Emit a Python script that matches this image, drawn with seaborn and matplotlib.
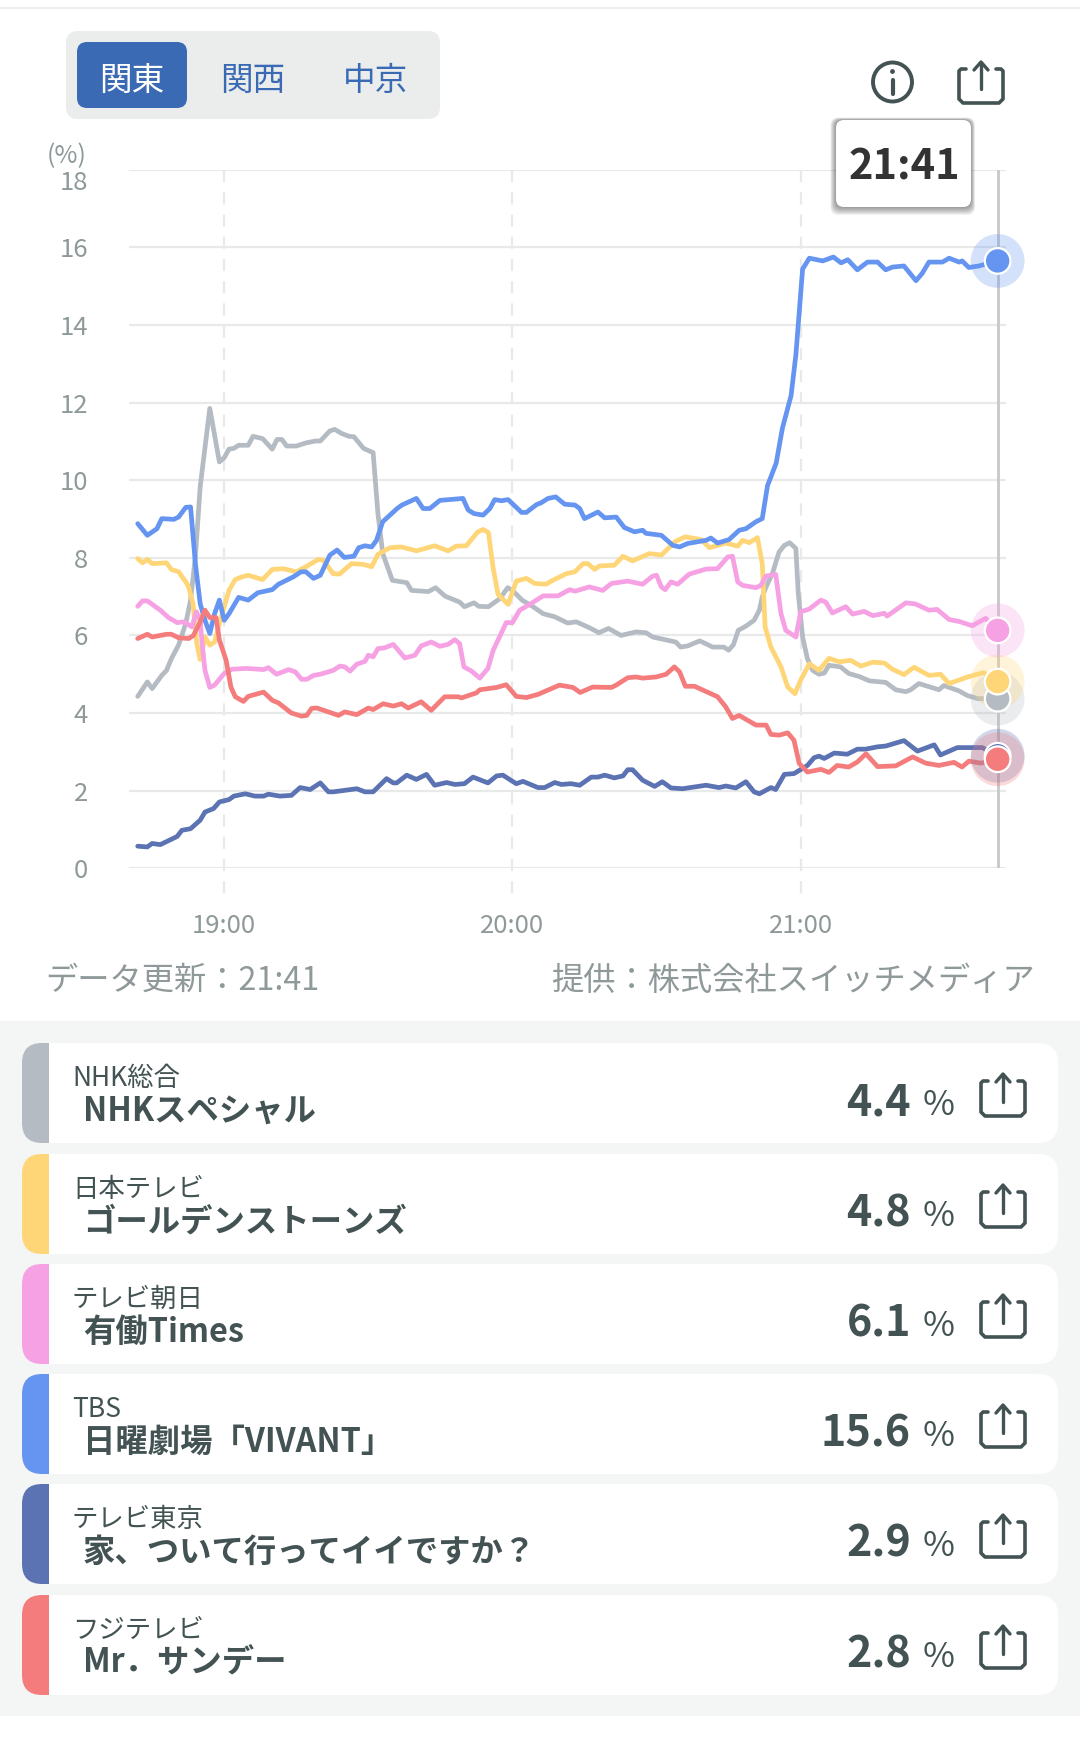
import pandas as pd
import seaborn as sns
import matplotlib.pyplot as plt
from matplotlib.patches import FancyBboxPatch, Rectangle, Circle

# ---- data (minutes from 19:00, rating %) ----
nhk_t = [-18, -16, -15, -13, -12, -11, -9.5, -8, -7, -6, -5, -3, -1, 0, 1, 2, 3, 5, 6, 8, 10, 11, 12, 13, 15, 17, 19, 20, 22, 23, 24.5, 26, 27, 29, 31, 32, 33, 35, 38, 39, 42.5, 44, 46, 48, 49, 50, 52, 53, 55, 57.4, 59, 60, 62, 64.3, 66.4, 68.8, 71.5, 73.3, 76, 78, 80, 82.6, 85.7, 87.8, 89.2, 94, 95, 96.5, 99, 101.7, 104, 105, 106, 107, 108.6, 110.3, 111.4, 112, 112.8, 114.1, 115.5, 116.6, 117.7, 119, 119.5, 120.4, 121.4, 122.5, 123.8, 124.9, 125.9, 128.3, 130, 132.2, 134.3, 137.7, 139.8, 141.9, 142.9, 144.6, 148.8, 149.8, 153, 154.7, 157, 161]
nhk_v = [4.43, 4.80, 4.63, 4.97, 5.10, 5.40, 5.75, 6.31, 6.91, 8.02, 9.83, 11.85, 10.47, 10.58, 10.80, 10.82, 10.90, 10.90, 11.13, 11.07, 10.80, 11.05, 11.05, 10.88, 10.88, 10.96, 11.01, 11.01, 11.27, 11.31, 11.20, 11.13, 11.12, 10.82, 10.71, 9.14, 8.11, 7.42, 7.36, 7.16, 7.13, 7.23, 7.01, 6.91, 6.86, 6.74, 6.84, 6.75, 6.74, 6.95, 7.23, 7.16, 6.91, 6.74, 6.56, 6.48, 6.32, 6.35, 6.20, 6.07, 6.18, 6.00, 6.09, 6.07, 5.96, 5.83, 5.70, 5.73, 5.86, 5.70, 5.70, 5.62, 5.76, 6.13, 6.24, 6.39, 6.65, 6.99, 7.25, 7.59, 8.15, 8.32, 8.39, 8.24, 7.08, 5.96, 5.40, 5.10, 5.00, 5.03, 5.23, 5.19, 5.02, 4.94, 4.83, 4.79, 4.60, 4.55, 4.60, 4.76, 4.60, 4.71, 4.57, 4.45, 4.37, 4.37]

ntv_t = [-18, -17, -16, -15, -12, -11, -9.5, -8, -7.4, -6.5, -5.7, -5, -4, -3, -2, -1, 0, 1, 2.3, 3.7, 5, 8, 10, 12.3, 15, 17, 19.6, 20.6, 22.7, 24, 26.5, 29, 30.7, 32, 34.5, 36.9, 40, 43.8, 46.6, 48.3, 50.4, 52.8, 53.9, 55, 56, 57, 59.1, 60.8, 62.9, 64.6, 67, 68.4, 71.2, 73, 74.7, 75.7, 77.1, 78.1, 81.2, 83, 85, 88.5, 91, 94, 96, 99.3, 101, 104.4, 106.9, 107.9, 109.3, 111, 112, 112.6, 113.8, 115.9, 117.3, 118.8, 120, 121.8, 123.8, 125.9, 128, 130.4, 132.5, 135, 137.4, 139.1, 141.5, 143.6, 146.7, 149.1, 150.9, 155, 158.1, 161]
ntv_v = [7.98, 7.87, 7.96, 7.85, 7.87, 7.70, 7.64, 7.38, 7.25, 6.82, 5.79, 5.38, 5.96, 5.75, 5.83, 6.31, 6.74, 7.16, 7.44, 7.51, 7.55, 7.44, 7.70, 7.72, 7.64, 7.77, 7.96, 7.94, 7.59, 7.58, 7.85, 7.83, 7.77, 8.09, 8.26, 8.28, 8.18, 8.31, 8.18, 8.30, 8.31, 8.67, 8.73, 8.65, 7.72, 7.06, 6.80, 7.40, 7.47, 7.34, 7.32, 7.42, 7.59, 7.64, 7.85, 7.85, 7.70, 7.79, 7.81, 8.04, 7.92, 8.11, 8.07, 8.43, 8.54, 8.47, 8.26, 8.38, 8.30, 8.45, 8.39, 8.52, 7.85, 6.22, 5.70, 5.19, 4.67, 4.50, 4.85, 5.27, 5.10, 5.41, 5.32, 5.36, 5.21, 5.31, 5.29, 5.13, 4.99, 5.18, 4.97, 5.00, 4.76, 4.94, 5.04, 4.81]

ex_t = [-18, -17, -16, -13.3, -11.6, -9.8, -8.4, -6.7, -5.8, -5, -4.6, -4, -3, -2, 0, 1.6, 4.7, 8.2, 9.2, 10.9, 13.4, 14.8, 16.1, 17.2, 18.6, 20, 22.7, 24.1, 25.1, 26.2, 27.6, 29.3, 30, 31, 32, 33.4, 35.2, 37.6, 39.7, 41, 43.1, 44.9, 46.6, 48, 49, 49.9, 51.5, 53.2, 54.9, 56, 57, 58.7, 60, 61.5, 63.6, 66.4, 69.5, 71.9, 73, 76, 78.8, 80.6, 84, 87.1, 89.2, 90, 91, 91.8, 93, 94.4, 96.8, 100.3, 102.7, 104.8, 105.8, 106.9, 107.9, 110.7, 111.7, 112.8, 114.8, 115.9, 116.9, 119, 120, 121.8, 124.2, 125.2, 126.6, 129.4, 130.8, 133.2, 135, 137.4, 138, 141.9, 143.9, 146.7, 148.4, 150.9, 153, 155.7, 158.5, 161]
ex_v = [6.75, 6.89, 6.89, 6.65, 6.46, 6.33, 6.35, 6.22, 6.61, 6.39, 5.79, 5.10, 4.66, 4.72, 5.02, 5.13, 5.15, 5.12, 5.17, 5.00, 5.12, 5.06, 4.87, 4.87, 4.97, 5.00, 5.10, 5.21, 5.19, 5.08, 5.26, 5.33, 5.49, 5.45, 5.66, 5.68, 5.77, 5.42, 5.49, 5.73, 5.83, 5.72, 5.77, 5.89, 5.79, 5.19, 5.08, 4.90, 5.15, 5.62, 5.88, 6.33, 6.33, 6.65, 6.80, 7.02, 7.02, 7.18, 7.14, 7.25, 7.16, 7.34, 7.40, 7.32, 7.53, 7.55, 7.25, 7.18, 7.38, 7.32, 7.58, 7.71, 7.72, 8.02, 8.04, 7.38, 7.29, 7.23, 7.29, 7.53, 7.57, 6.56, 6.13, 5.96, 6.61, 6.68, 6.91, 6.86, 6.58, 6.74, 6.55, 6.62, 6.51, 6.57, 6.50, 6.84, 6.81, 6.65, 6.67, 6.41, 6.36, 6.25, 6.44, 6.13]

tbs_t = [-18, -16, -14, -13, -10.5, -9.5, -8, -7, -6, -5, -4, -3, -2, -1, 0, 1, 3, 5, 7, 10, 11.3, 14.4, 16, 17, 18.6, 20, 22, 23.5, 25, 27, 28, 29.3, 30.7, 31.7, 33, 36, 37, 40, 41.4, 42.8, 44.9, 49.7, 50.8, 52, 53.9, 55.3, 56.3, 57.7, 59.1, 61.9, 62.9, 65, 66, 67.4, 69, 70.9, 73, 74, 75, 77.8, 79.2, 81.6, 83.3, 85.4, 87.1, 87.8, 91, 93.4, 94.8, 96.5, 100.3, 101.3, 102.7, 105.1, 107.2, 108.6, 110.7, 112, 113.1, 114.9, 116.2, 118, 119, 120.4, 121.8, 124.6, 126.8, 128.4, 129.8, 131.8, 133.9, 136, 137.7, 139.1, 141.5, 144, 145.3, 146.7, 149.5, 150.9, 153, 153.6, 155, 157.1, 161]
tbs_v = [8.88, 8.58, 8.75, 9.01, 8.99, 9.05, 9.30, 9.31, 7.85, 6.82, 6.39, 6.05, 6.56, 6.91, 6.39, 6.56, 6.98, 6.91, 7.10, 7.18, 7.32, 7.51, 7.64, 7.64, 7.47, 7.55, 8.07, 8.20, 8.01, 8.04, 8.26, 8.31, 8.28, 8.45, 8.93, 9.27, 9.36, 9.53, 9.27, 9.27, 9.48, 9.53, 9.23, 9.14, 9.10, 9.27, 9.50, 9.47, 9.50, 9.17, 9.17, 9.37, 9.42, 9.53, 9.57, 9.38, 9.36, 9.27, 9.01, 9.18, 9.03, 9.05, 8.78, 8.67, 8.71, 8.63, 8.58, 8.32, 8.28, 8.37, 8.45, 8.51, 8.38, 8.47, 8.71, 8.75, 8.93, 9.01, 9.86, 10.44, 11.34, 12.18, 13.23, 15.44, 15.72, 15.65, 15.75, 15.60, 15.68, 15.42, 15.62, 15.62, 15.42, 15.49, 15.52, 15.14, 15.33, 15.62, 15.62, 15.72, 15.62, 15.65, 15.48, 15.52, 15.65]

tx_t = [-18, -16, -15, -13.3, -9.8, -8.8, -7, -5, -4, -2.2, -1, 1, 2, 4.4, 6.4, 8.2, 9.2, 11.6, 14, 15.8, 17.9, 20, 21.7, 22.7, 27.6, 29.3, 31, 33.8, 35.2, 35.9, 38, 40, 42.1, 43.8, 46.3, 48, 50, 51.8, 54.9, 56.7, 58, 60.8, 62.2, 65.3, 66.7, 68.8, 70.2, 72.2, 74, 76.4, 77.8, 79.2, 81.2, 83, 84, 85, 87.1, 89.6, 91.2, 93, 95.4, 100.3, 103, 104.4, 106.5, 108.6, 110.3, 111.4, 113.8, 114.8, 116.6, 118.6, 121.4, 122.8, 123.8, 124.9, 127, 129.7, 131.8, 133.5, 136, 137.7, 141.5, 144.3, 147.8, 149.1, 152.6, 157.8, 161]
tx_v = [0.57, 0.55, 0.64, 0.61, 0.82, 0.98, 1.02, 1.24, 1.45, 1.54, 1.71, 1.77, 1.86, 1.92, 1.86, 1.86, 1.91, 1.86, 1.88, 2.08, 2.03, 2.20, 1.97, 1.97, 2.05, 1.97, 1.97, 2.31, 2.20, 2.20, 2.40, 2.29, 2.42, 2.14, 2.21, 2.16, 2.18, 2.35, 2.20, 2.38, 2.40, 2.18, 2.24, 2.08, 2.08, 2.21, 2.16, 2.18, 2.14, 2.35, 2.35, 2.40, 2.33, 2.38, 2.54, 2.54, 2.27, 2.11, 2.23, 2.07, 2.05, 2.14, 2.08, 2.12, 2.07, 2.23, 1.97, 1.92, 2.08, 2.03, 2.42, 2.44, 2.65, 2.85, 2.89, 2.83, 2.97, 2.94, 3.07, 3.07, 3.13, 3.15, 3.29, 3.02, 3.18, 2.92, 3.11, 3.11, 2.90]

cx_t = [-18, -16, -15, -12, -11, -9.5, -7.4, -6.4, -5, -4, -3, -1.7, -1, 0.4, 1.4, 2.3, 4, 5, 8.2, 10, 11.3, 14, 16.1, 17.2, 18.2, 19.3, 23.8, 25.1, 27.6, 30, 31, 33.1, 35.2, 36.9, 38.3, 41, 43.1, 45.9, 48.7, 49.4, 52.5, 53.2, 56.7, 58.7, 60.8, 62.9, 65.3, 69.8, 72.6, 74.1, 76.7, 80.6, 81.6, 84, 85.7, 87.1, 89.9, 92, 93.7, 94.8, 96, 97.9, 102.7, 104.4, 105.8, 107.2, 110.7, 112.8, 113.8, 115.5, 117.3, 118.6, 119.7, 121.4, 124.2, 125.9, 127.6, 130, 131.8, 133.6, 136, 139.8, 143.3, 146, 148.8, 151.9, 153.6, 155, 157.5, 161]
cx_v = [5.92, 6.03, 5.96, 6.03, 6.03, 5.94, 5.92, 6.00, 6.35, 6.65, 6.46, 6.46, 5.88, 5.36, 4.67, 4.42, 4.30, 4.43, 4.54, 4.33, 4.26, 4.00, 3.92, 3.94, 4.12, 4.13, 3.94, 4.03, 3.96, 4.13, 4.09, 4.24, 4.18, 4.24, 4.13, 4.29, 4.07, 4.42, 4.42, 4.39, 4.52, 4.60, 4.66, 4.73, 4.43, 4.40, 4.48, 4.72, 4.66, 4.53, 4.67, 4.66, 4.72, 4.91, 4.93, 4.90, 4.93, 5.00, 5.19, 5.06, 4.69, 4.69, 4.42, 4.16, 3.86, 3.94, 3.69, 3.69, 3.45, 3.43, 3.49, 3.30, 2.70, 2.48, 2.55, 2.47, 2.65, 2.61, 2.74, 2.95, 2.62, 2.64, 2.87, 2.71, 2.65, 2.73, 2.61, 2.76, 2.71, 2.81]

networks = ["NHK総合", "日本テレビ", "テレビ朝日", "TBS", "テレビ東京", "フジテレビ"]
programs = ["NHKスペシャル", "ゴールデンストーンズ", "有働Times", "日曜劇場「VIVANT」", "家、ついて行ってイイですか？", "Mr．サンデー"]
ratings = [4.4, 4.8, 6.1, 15.6, 2.9, 2.8]
colors = ["#b4bbc3", "#ffd677", "#f6a1e3", "#6595f0", "#5b72b3", "#f47c7c"]

regions = ["関東", "関西", "中京"]
y_ticks = list(range(0, 19, 2))
x_ticks = [0, 60, 120]
x_labels = ["19:00", "20:00", "21:00"]

series_t = [nhk_t, ntv_t, ex_t, tbs_t, tx_t, cx_t]
series_v = [nhk_v, ntv_v, ex_v, tbs_v, tx_v, cx_v]

frames = []
for name, t, v in zip(networks, series_t, series_v):
    frames.append(pd.DataFrame({"t": t, "v": v, "channel": name}))
df = pd.concat(frames, ignore_index=True)
last = df.groupby("channel", sort=False).tail(1)

# ---- setup ----
sns.set_theme(style="white")
plt.rcParams["font.family"] = ["Noto Sans CJK JP", "DejaVu Sans"]

W, H = 1080, 1742
GREY = "#8f9999"
DARK = "#435253"
GRID = "#e8e9e9"

fig = plt.figure(figsize=(W / 100, H / 100), dpi=100, facecolor="white")


def pixel_axes(zorder):
    a = fig.add_axes([0, 0, 1, 1], zorder=zorder)
    a.set_xlim(0, W)
    a.set_ylim(H, 0)
    a.axis("off")
    return a


def round_box(a, x0, y0, x1, y1, r, color, **kw):
    p = FancyBboxPatch((x0, y0), x1 - x0, y1 - y0,
                       boxstyle=f"round,pad=0,rounding_size={r}",
                       fc=color, ec="none", **kw)
    a.add_patch(p)
    return p


def share_icon(a, x0, x1, y0, y1):
    # tray with the arrow coming out of the top
    xm = (x0 + x1) / 2
    top = y0 + 8
    a.plot([x0 + 7, x0 + 2, x0, x0, x0 + 4, x1 - 4, x1, x1, x1 - 2, x1 - 7],
           [top, top, top + 2, y1 - 4, y1, y1, y1 - 4, top + 2, top, top],
           color=DARK, lw=2.6, solid_capstyle="round", solid_joinstyle="round")
    a.plot([xm, xm], [y0 + 2, y1 - 14], color=DARK, lw=2.4, solid_capstyle="round")
    a.plot([xm - 7, xm, xm + 7], [y0 + 9, y0 + 1, y0 + 9], color=DARK, lw=2.4,
           solid_capstyle="round", solid_joinstyle="round")


bg = pixel_axes(0)

# header
bg.plot([0, W], [8, 8], color="#eeeeee", lw=1.5)
round_box(bg, 66, 31, 440, 119, 12, "#ebeded")
round_box(bg, 77, 42, 187, 108, 10, "#3b6ab5")
for label, xc, col in zip(regions, [132, 253, 375], ["white", "#3b6ab5", "#3b6ab5"]):
    bg.text(xc, 90, label, color=col, fontsize=23.5, ha="center", va="baseline")

bg.add_patch(Circle((892.5, 82), 19.5, fc="none", ec=DARK, lw=2.8))
bg.plot([892.5, 892.5], [80, 94], color=DARK, lw=3, solid_capstyle="round")
bg.add_patch(Circle((892.5, 71.5), 2.4, fc=DARK, ec="none"))
share_icon(bg, 959, 1003, 61, 103)

(bg.text(62 + 25, 163, "(%)", color=GREY, fontsize=18, ha="right", va="baseline"))

# footer of the chart
bg.text(45, 990, "データ更新：21:41", color=GREY, fontsize=23.2, ha="left", va="baseline")
bg.text(1035, 990, "提供：株式会社スイッチメディア", color=GREY, fontsize=23.2, ha="right", va="baseline")

# list panel
bg.add_patch(Rectangle((0, 1021), W, 695, fc="#f4f5f5", ec="none"))
card_top = [1043, 1154, 1264, 1374, 1484, 1595]
for top, name, prog, val, col in zip(card_top, networks, programs, ratings, colors):
    round_box(bg, 22, top, 1058, top + 100, 20, "white")
    stripe = round_box(bg, 22, top, 1058, top + 100, 20, col)
    stripe.set_clip_path(Rectangle((22, top), 27, 100, transform=bg.transData))
    bg.text(72, top + 43, name, color=DARK, fontsize=19, ha="left", va="baseline")
    bg.text(83, top + 78, prog, color=DARK, fontsize=23.3, fontweight="bold", ha="left", va="baseline")
    bg.text(911, top + 72, f"{val:.1f}", color=DARK, fontsize=31, fontweight="bold", ha="right", va="baseline")
    bg.text(923, top + 72, "%", color=DARK, fontsize=25, ha="left", va="baseline")
    share_icon(bg, 981, 1025, top + 30, top + 73)

# chart
left, right, top_px, bottom_px = 129, 1006, 169.7, 868.3
ax = fig.add_axes([left / W, 1 - bottom_px / H, (right - left) / W, (bottom_px - top_px) / H], zorder=1)
ax.patch.set_alpha(0)
for s in ax.spines.values():
    s.set_visible(False)

px_per_min = 4.804
ax.set_xlim((left - 224.2) / px_per_min, (right - 224.2) / px_per_min)
ax.set_ylim(0, 18)
ax.set_yticks(y_ticks)
ax.set_xticks(x_ticks, x_labels)
ax.tick_params(axis="y", length=0, pad=29.5, labelsize=18.5, labelcolor=GREY)
ax.tick_params(axis="x", length=0, pad=32, labelsize=18.5, labelcolor=GREY)
ax.get_yticklabels()[-1].set_va("top")

ax.grid(axis="y", color=GRID, lw=1.6, zorder=0)
ax.set_axisbelow(True)
for t in x_ticks:
    ax.plot([t, t], [18, -0.7], color=GRID, lw=1.6, dashes=(5.5, 4.5), clip_on=False, zorder=1)
ax.plot([161, 161], [18, 0], color="#c6c8ca", lw=2, zorder=1.5)

sns.lineplot(data=df, x="t", y="v", hue="channel", hue_order=networks, palette=colors,
             estimator=None, sort=False, legend=False, lw=3.4, ax=ax,
             solid_joinstyle="round", zorder=2)

sns.scatterplot(data=last, x="t", y="v", hue="channel", hue_order=networks, palette=colors,
                s=1500, alpha=0.28, linewidth=0, legend=False, ax=ax, clip_on=False, zorder=3)
sns.scatterplot(data=last, x="t", y="v", hue="channel", hue_order=networks, palette=colors,
                s=340, edgecolor="white", linewidth=1.6, legend=False, ax=ax, clip_on=False, zorder=4)
ax.set_xlabel("")
ax.set_ylabel("")

# tooltip on top of everything
fg = pixel_axes(2)
for i in range(8, 0, -1):
    round_box(fg, 836 - i * 0.7, 120 - i * 0.3, 971 + i * 0.5, 207 + i, 8, "black", alpha=0.055)
round_box(fg, 836, 120, 971, 207, 8, "white")
fg.text(904, 179, "21:41", color="#333333", fontsize=30, fontweight="bold", ha="center", va="baseline")

fig.savefig("out.png", dpi=100, facecolor="white")
